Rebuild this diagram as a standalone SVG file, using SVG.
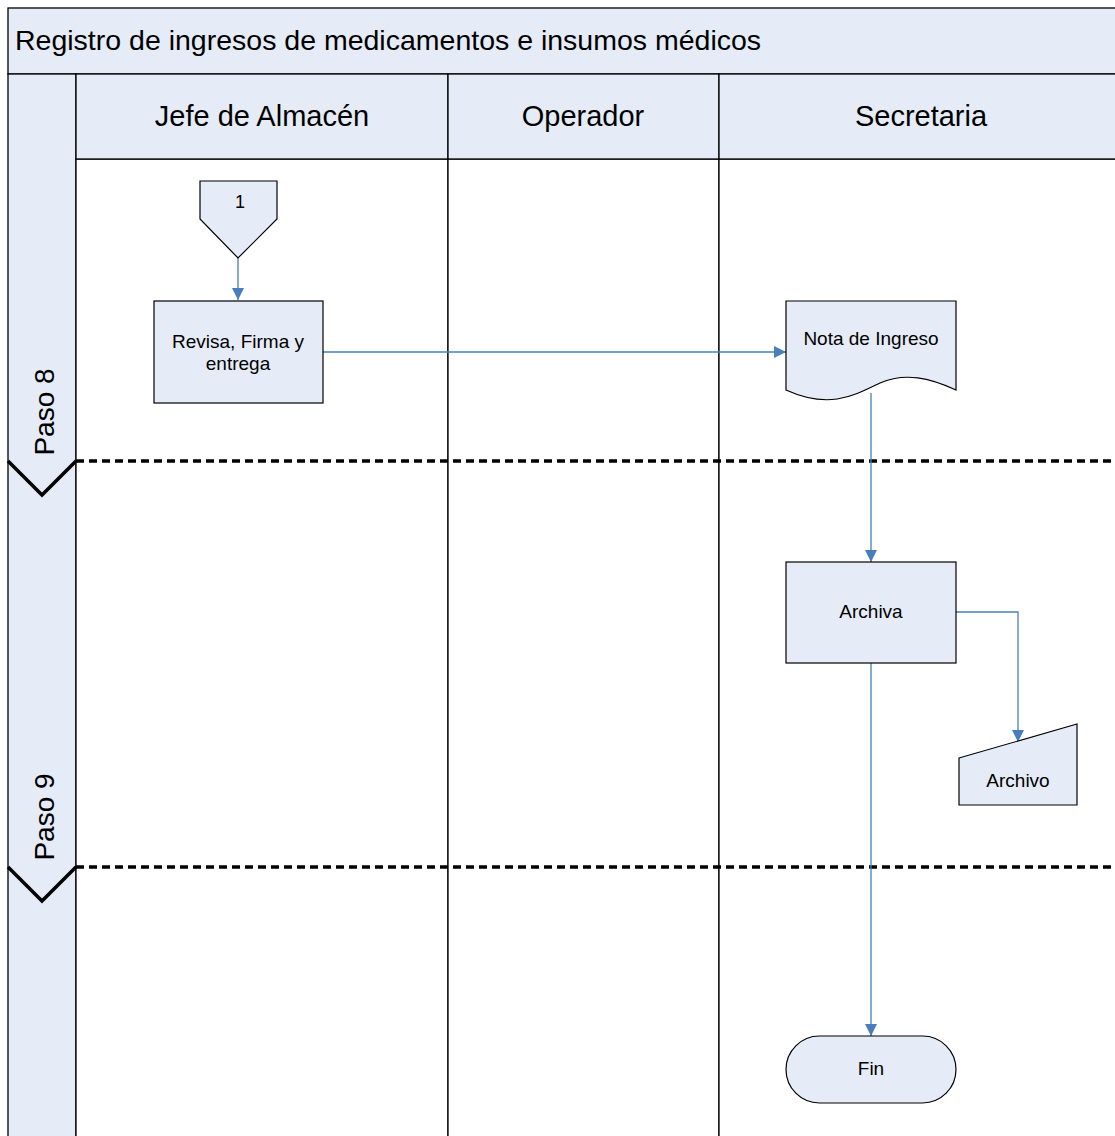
<svg xmlns="http://www.w3.org/2000/svg" width="1115" height="1136" viewBox="0 0 1115 1136">
<style>
.band{fill:#E6ECF7;stroke:#000;stroke-width:1.3}
.lane{fill:#fff;stroke:#000;stroke-width:1.3}
.shape{fill:#E6ECF7;stroke:#000;stroke-width:1.2}
.t{font-family:"Liberation Sans",Arial,sans-serif;fill:#000}
.conn{fill:none;stroke:#4A7EBB;stroke-width:1.3}
.sep{fill:none;stroke:#000;stroke-width:3.5;stroke-dasharray:8,5}
.chev{fill:none;stroke:#000;stroke-width:3.5}
</style>
<defs>
<marker id="arr" markerWidth="14" markerHeight="14" refX="12" refY="6" orient="auto" markerUnits="userSpaceOnUse">
<path d="M0,0 L12,6 L0,12 Z" fill="#4A7EBB"/>
</marker>
</defs>
<g id="pool">
<rect class="band" x="8" y="8" width="1120" height="66"/>
<text class="t" x="15" y="50" font-size="28.5">Registro de ingresos de medicamentos e insumos médicos</text>
<rect class="band" x="8" y="74" width="68" height="1070"/>
</g>
<g id="lane-jefe">
<rect class="lane" x="76" y="159" width="372" height="985"/>
<rect class="band" x="76" y="74" width="372" height="85"/>
<text class="t" x="262" y="126" font-size="29" text-anchor="middle">Jefe de Almacén</text>
</g>
<g id="lane-operador">
<rect class="lane" x="448" y="159" width="271" height="985"/>
<rect class="band" x="448" y="74" width="271" height="85"/>
<text class="t" x="583" y="126" font-size="29" text-anchor="middle">Operador</text>
</g>
<g id="lane-secretaria">
<rect class="lane" x="719" y="159" width="410" height="985"/>
<rect class="band" x="719" y="74" width="410" height="85"/>
<text class="t" x="921" y="126" font-size="29" text-anchor="middle">Secretaria</text>
</g>
<g id="phases">
<line class="sep" x1="76" y1="461" x2="1115" y2="461"/>
<polyline class="chev" points="8,461 42,495 76,461"/>
<text class="t" font-size="28" text-anchor="middle" transform="translate(54,412) rotate(-90)">Paso 8</text>
<line class="sep" x1="76" y1="867" x2="1115" y2="867"/>
<polyline class="chev" points="8,867 42,901 76,867"/>
<text class="t" font-size="28" text-anchor="middle" transform="translate(54,817) rotate(-90)">Paso 9</text>
</g>
<g id="connectors">
<line class="conn" x1="238" y1="258" x2="238" y2="300" marker-end="url(#arr)"/>
<line class="conn" x1="323" y1="352" x2="786" y2="352" marker-end="url(#arr)"/>
<line class="conn" x1="871" y1="393" x2="871" y2="562" marker-end="url(#arr)"/>
<polyline class="conn" points="956,612 1018,612 1018,742" marker-end="url(#arr)"/>
<line class="conn" x1="871" y1="663" x2="871" y2="1036" marker-end="url(#arr)"/>
</g>
<g id="node-conector1">
<polygon class="shape" points="200,181 277,181 277,219 238,258 200,219"/>
<text class="t" x="240" y="208" font-size="18" text-anchor="middle">1</text>
</g>
<g id="node-revisa">
<rect class="shape" x="154" y="301" width="169" height="102"/>
<text class="t" x="238" y="348" font-size="19" text-anchor="middle">Revisa, Firma y</text>
<text class="t" x="238" y="370" font-size="19" text-anchor="middle">entrega</text>
</g>
<g id="node-nota">
<path class="shape" d="M786,301 L956,301 L956,390 C930,378 905,372 880,383 C855,395 830,410 786,390 Z"/>
<text class="t" x="871" y="345" font-size="19" text-anchor="middle">Nota de Ingreso</text>
</g>
<g id="node-archiva">
<rect class="shape" x="786" y="562" width="170" height="101"/>
<text class="t" x="871" y="618" font-size="19" text-anchor="middle">Archiva</text>
</g>
<g id="node-archivo">
<polygon class="shape" points="959,758 1077,724 1077,805 959,805"/>
<text class="t" x="1018" y="787" font-size="19" text-anchor="middle">Archivo</text>
</g>
<g id="node-fin">
<rect class="shape" x="786" y="1036" width="170" height="67" rx="33.5" ry="33.5"/>
<text class="t" x="871" y="1075" font-size="19" text-anchor="middle">Fin</text>
</g>
</svg>
